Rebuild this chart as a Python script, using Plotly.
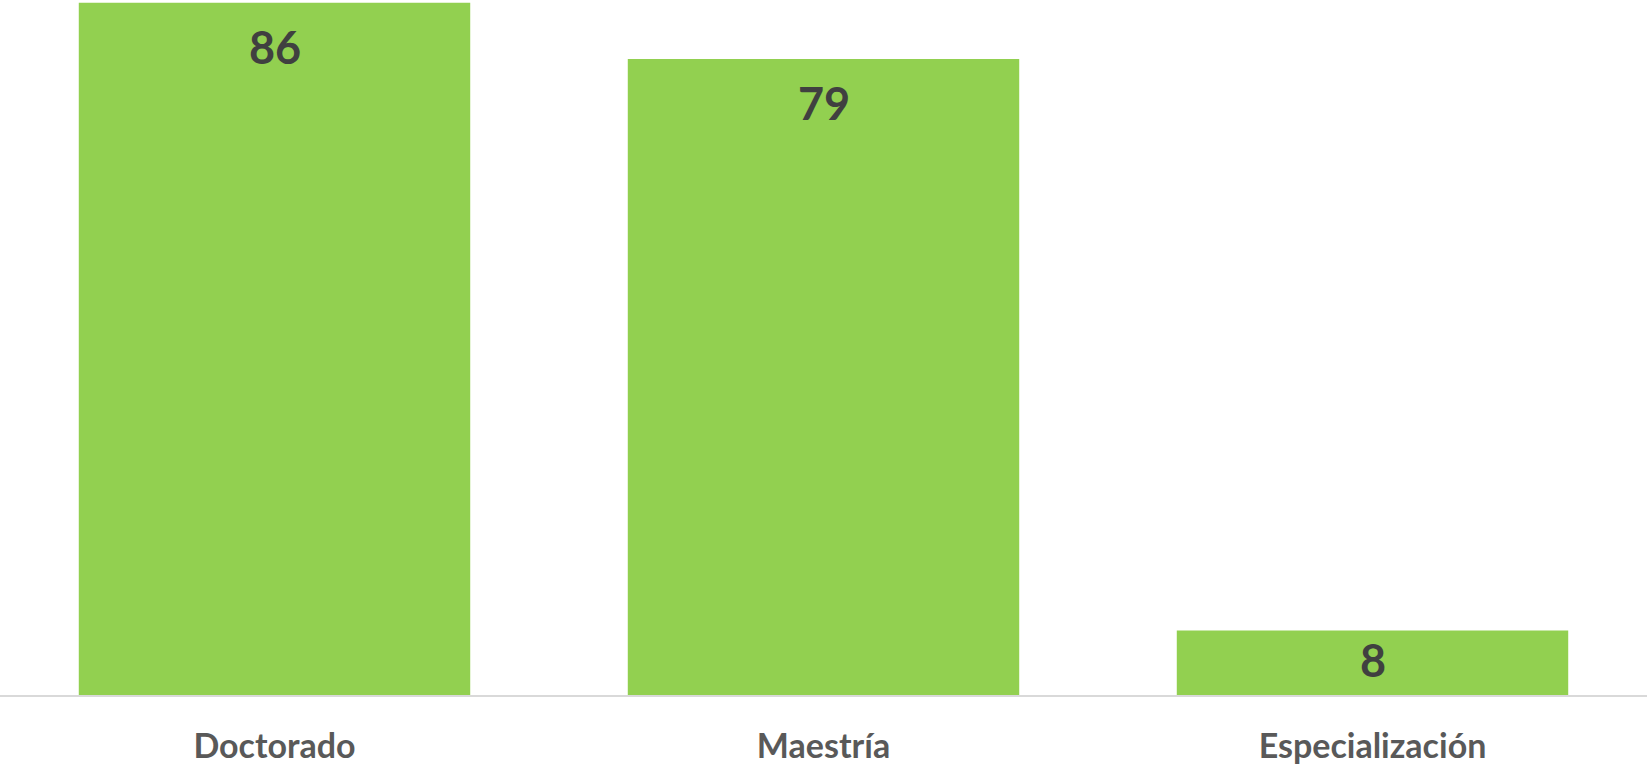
import plotly.graph_objects as go

# data
categories = ["Doctorado", "Maestría", "Especialización"]
values = [86, 79, 8]

bar_color = "#92d050"
label_color = "#404040"
tick_color = "#595959"

fig = go.Figure(
    go.Bar(
        x=categories,
        y=values,
        marker=dict(color=bar_color, line=dict(width=0)),
        hoverinfo="skip",
    )
)

# value labels near the top of each bar (centred when the bar is short)
annotations = []
for cat, v in zip(categories, values):
    short = v < 20
    annotations.append(
        dict(
            x=cat,
            y=v / 2 if short else v,
            xref="x",
            yref="y",
            text=str(v),
            showarrow=False,
            yanchor="middle",
            yshift=3 if short else -44,
            font=dict(family="Lato", size=45, color=label_color, weight="bold"),
        )
    )

fig.update_layout(
    width=1647,
    height=764,
    margin=dict(l=0, r=0, t=0, b=69),
    paper_bgcolor="white",
    plot_bgcolor="white",
    bargap=0.287,
    showlegend=False,
    annotations=annotations,
)
fig.update_xaxes(
    showline=True,
    linecolor="#d9d9d9",
    linewidth=2,
    showgrid=False,
    ticks="",
    automargin=False,
    ticklabelstandoff=20,
    tickfont=dict(family="Lato", size=34, color=tick_color, weight="bold"),
)
fig.update_yaxes(
    range=[0, 86.34],
    visible=False,
    showgrid=False,
    zeroline=False,
    automargin=False,
)

# drop the page's default body margin so the figure fills the window
fig.write_html(
    "out.html",
    config={"displayModeBar": False},
    post_script="document.body.style.margin='0';document.body.style.overflow='hidden';",
)
